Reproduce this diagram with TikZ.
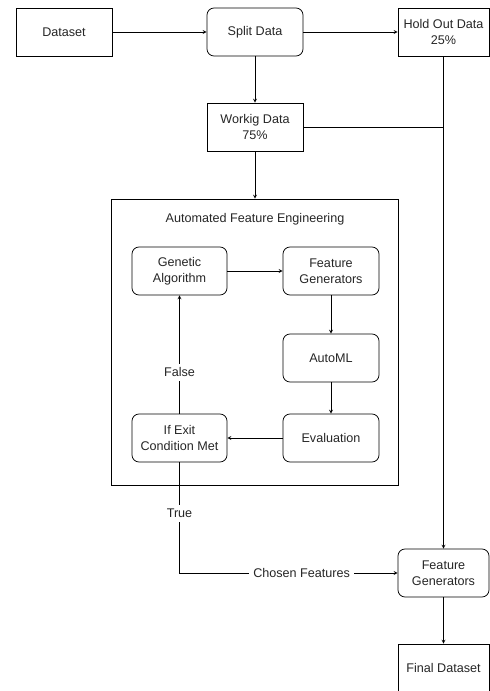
\documentclass[tikz,border=0pt]{standalone}
\usepackage{fontspec}
\setmainfont{Liberation Sans}
\usetikzlibrary{positioning}

\tikzset{
  block/.style={draw,minimum width=96pt,minimum height=48pt,align=center,inner sep=2pt},
  rblock/.style={block,rounded corners=7pt},
  edgelabel/.style={fill=white,inner sep=4pt},
}

\begin{document}
\begin{tikzpicture}[x=1pt,y=-1pt,->,>=stealth,line width=0.75pt,text=black!85,font=\fontsize{12.6}{15.5}\selectfont,node distance=191pt]
        \clip (0,0) rectangle (490,691);
        \node[block] (dataset) at (64,32) {Dataset};
        \node[rblock] (split) [right of=dataset] {Split Data};
        \node[block,minimum width=91pt] (hold) at (443.5,32) {Hold Out Data\\25\%};
        \node[block] (work) [node distance=95pt,below of=split] {Workig Data\\75\%};

        \node[draw,minimum width=287pt,minimum height=286pt] (afe) at (255,342) {};
        \node (afetitle) at (255,219) {Automated Feature Engineering};
        \node[rblock,minimum width=95pt] (ga) at (179.5,271) {Genetic\\Algorithm};
        \node[rblock] (fg) [node distance=151.5pt,right of=ga] {Feature\\Generators};
        \node[rblock] (automl) [node distance=87pt,below of=fg] {AutoML};
        \node[rblock] (eval) [node distance=80pt,below of=automl] {Evaluation};
        \node[rblock,minimum width=95pt] (exit) [node distance=151.5pt,left of=eval] {If Exit\\Condition Met};

        \node[rblock,minimum width=91pt] (fg2) at (443.5,573) {Feature\\Generators};
        \node[block,minimum width=91pt] (final) [node distance=95pt,below of=fg2] {Final Dataset};

        \path (dataset) edge (split)
              (split) edge (hold)
                      edge (work)
              (work) edge (afe)
              (ga) edge (fg)
              (fg) edge (automl)
              (automl) edge (eval)
              (eval) edge (exit)
              (exit) edge node[pos=.35,edgelabel] {False} (ga)
              (hold) edge (fg2)
              (fg2) edge (final);
        \draw[-] (work.east) -- (work.east -| hold.south);
        \draw (exit.south) |- node[pos=.23,edgelabel] {True}
                                node[pos=.78,edgelabel] {Chosen Features} (fg2.west);
    \end{tikzpicture}
\end{document}
